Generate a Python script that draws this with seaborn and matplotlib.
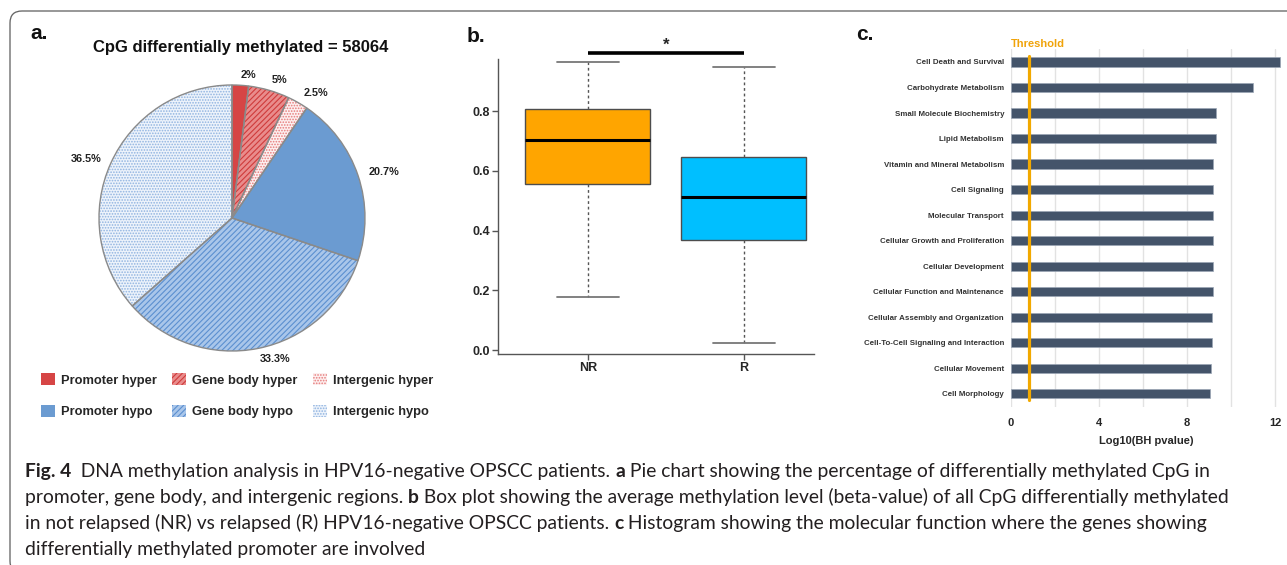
import matplotlib
matplotlib.use('Agg')
import matplotlib.pyplot as plt
import seaborn as sns
import pandas as pd
from matplotlib import font_manager
from matplotlib.patches import Patch, FancyBboxPatch
from matplotlib.transforms import IdentityTransform

W, H = 1287, 565

# a. pie chart
pie_labels = ['Promoter hyper', 'Gene body hyper', 'Intergenic hyper',
              'Promoter hypo', 'Gene body hypo', 'Intergenic hypo']
pie_values = [2, 5, 2.5, 20.7, 33.3, 36.5]
pie_text = ['2%', '5%', '2.5%', '20.7%', '33.3%', '36.5%']
pie_title = 'CpG differentially methylated = 58064'

# b. box plot, summary per group: min, q1, median, q3, max
box_groups = ['NR', 'R']
nr_summary = [0.178, 0.557, 0.704, 0.807, 0.963]
r_summary = [0.024, 0.370, 0.513, 0.645, 0.947]

# c. molecular functions
functions = ['Cell Death and Survival', 'Carbohydrate Metabolism',
             'Small Molecule Biochemistry', 'Lipid Metabolism',
             'Vitamin and Mineral Metabolism', 'Cell Signaling',
             'Molecular Transport', 'Cellular Growth and Proliferation',
             'Cellular Development', 'Cellular Function and Maintenance',
             'Cellular Assembly and Organization',
             'Cell-To-Cell Signaling and Interaction', 'Cellular Movement',
             'Cell Morphology']
log_p = [12.24, 10.98, 9.30, 9.30, 9.18, 9.18, 9.18, 9.18, 9.18, 9.16,
         9.15, 9.15, 9.11, 9.05]
threshold = 0.8

caption_lines = [
    [('Fig. 4', True), ('  DNA methylation analysis in HPV16-negative OPSCC patients. ', False),
     ('a', True), (' Pie chart showing the percentage of differentially methylated CpG in', False)],
    [('promoter, gene body, and intergenic regions. ', False), ('b', True),
     (' Box plot showing the average methylation level (beta-value) of all CpG differentially methylated', False)],
    [('in not relapsed (NR) vs relapsed (R) HPV16-negative OPSCC patients. ', False), ('c', True),
     (' Histogram showing the molecular function where the genes showing', False)],
    [('differentially methylated promoter are involved', False)],
]

# styles
pie_faces = ['#d64545', '#e98c8c', '#fdf0f0', '#6b9bd1', '#a9c6ea', '#edf3fb']
pie_hatches = [None, '//////', '......', None, '//////', '......']
pie_hatch_colors = [None, '#cf3b3b', '#e67a7a', None, '#5b8fd0', '#8fb3e0']

sns.set_theme(style='white')
plt.rcParams['font.family'] = ['Liberation Sans', 'DejaVu Sans']
plt.rcParams['hatch.linewidth'] = 0.8


def box(left, top, width, height):
    return [left / W, 1 - (top + height) / H, width / W, height / H]


def fx(x):
    return x / W


def fy(y):
    return 1 - y / H


fig = plt.figure(figsize=(W / 100, H / 100), dpi=100)
fig.patch.set_facecolor('white')

# ---- a. pie
ax_a = fig.add_axes(box(72.4, 58.4, 319.2, 319.2))
wedges, texts = ax_a.pie(pie_values, labels=pie_text, startangle=90, counterclock=False,
                         colors=pie_faces, labeldistance=1.08,
                         textprops=dict(fontsize=7.8, fontweight='bold', color='#222222'),
                         wedgeprops=dict(linewidth=0))
for w, h, c in zip(wedges, pie_hatches, pie_hatch_colors):
    if h:
        w.set_edgecolor(c)
        w.set_hatch(h)
ax_a.pie(pie_values, startangle=90, counterclock=False, colors=['none'] * len(pie_values),
         wedgeprops=dict(edgecolor='#8a8a8a', linewidth=1))
ax_a.set_xlim(-1.2, 1.2)
ax_a.set_ylim(-1.2, 1.2)

fig.text(fx(241), fy(52), pie_title, ha='center', va='baseline', fontsize=12,
         fontweight='bold', color='#111111')

order = [0, 3, 1, 4, 2, 5]
handles = []
for i in order:
    if pie_hatches[i]:
        handles.append(Patch(facecolor=pie_faces[i], hatch=pie_hatches[i],
                             edgecolor=pie_hatch_colors[i], linewidth=0))
    else:
        handles.append(Patch(facecolor=pie_faces[i], linewidth=0))
fig.legend(handles, [pie_labels[i] for i in order], ncol=3, loc='upper left',
           bbox_to_anchor=(fx(41), fy(373)), frameon=False,
           prop=dict(weight='bold', size=9.3), handlelength=1.08, handleheight=1.08,
           handletextpad=0.45, columnspacing=1.2, labelspacing=1.4,
           borderpad=0, borderaxespad=0)

# ---- b. box plot
df_box = pd.DataFrame({'group': ['NR'] * len(nr_summary) + ['R'] * len(r_summary),
                       'value': nr_summary + r_summary})
ax_b = fig.add_axes(box(498, 59, 316, 295))
sns.boxplot(data=df_box, x='group', y='value', hue='group', order=box_groups,
            palette={'NR': '#FFA500', 'R': '#00BFFF'}, saturation=1, whis=(0, 100),
            width=0.8, linecolor='#4d4d4d', linewidth=1, legend=False,
            whiskerprops=dict(color='#555555', linewidth=1, linestyle=(0, (2, 2))),
            capprops=dict(color='#777777', linewidth=1.3),
            medianprops=dict(color='black', linewidth=2.2), ax=ax_b)
ax_b.set_xlim(-0.576, 1.45)
ax_b.set_ylim(-0.013, 0.974)
yt = [0, 0.2, 0.4, 0.6, 0.8]
ax_b.set_yticks(yt, labels=[f'{v:.1f}' for v in yt], fontweight='bold', fontsize=9)
ax_b.set_xticks([0, 1], labels=box_groups, fontweight='bold', fontsize=9)
ax_b.set_xlabel('')
ax_b.set_ylabel('')
sns.despine(ax=ax_b)
for s in ['left', 'bottom']:
    ax_b.spines[s].set_color('#555555')
    ax_b.spines[s].set_linewidth(1)
ax_b.tick_params(axis='both', length=4, width=1, color='#555555', pad=2,
                 left=True, bottom=True)
ax_b.plot([0, 1], [0.994, 0.994], color='black', lw=2.6, clip_on=False,
          solid_capstyle='butt')
ax_b.text(0.5, 1.02, '*', ha='center', va='center', fontsize=12, fontweight='bold',
          clip_on=False)

# ---- c. bar chart
ax_c = fig.add_axes(box(1011, 49.2, 270.6, 357.4))
ax_c.set_axisbelow(True)
sns.barplot(x=log_p, y=functions, color='#44546a', width=0.36, saturation=1,
            edgecolor='#9aa5b5', linewidth=0.5, errorbar=None, ax=ax_c)
ax_c.set_xlim(0, 12.3)
ax_c.set_ylim(13.5, -0.5)
ax_c.set_xticks([0, 4, 8, 12], labels=['0', '4', '8', '12'], fontweight='bold', fontsize=8)
ax_c.set_xticks([2, 6, 10], minor=True)
ax_c.grid(axis='x', which='both', color='#e2e2e2', linewidth=1)
ax_c.grid(axis='y', visible=False)
for lbl in ax_c.get_yticklabels():
    lbl.set_fontweight('bold')
    lbl.set_fontsize(5.7)
    lbl.set_color('#333333')
ax_c.tick_params(axis='x', which='both', length=0, pad=8)
ax_c.tick_params(axis='y', length=0, pad=5)
for s in ax_c.spines.values():
    s.set_visible(False)
ax_c.axvline(threshold, ymin=0.018, ymax=0.981, color='#f2a900', lw=2.3)
ax_c.text(0, -0.72, 'Threshold', ha='left', va='center', fontsize=8,
          fontweight='bold', color='#f0a30a', clip_on=False)
ax_c.set_xlabel('Log10(BH pvalue)', fontsize=8, fontweight='bold', labelpad=6)
ax_c.set_ylabel('')

# panel letters
for letter, x, y in [('a.', 30, 39), ('b.', 467, 42.5), ('c.', 856, 40)]:
    fig.text(fx(x), fy(y), letter, ha='left', va='baseline', fontsize=15,
             fontweight='bold', color='#111111')

# ---- caption
names = {f.name for f in font_manager.fontManager.ttflist}
cap_family = ['Liberation Sans Narrow'] if 'Liberation Sans Narrow' in names else ['Lato']
renderer = fig.canvas.get_renderer()


def draw_runs(runs, x, y, size):
    objs = []
    for txt, bold in runs:
        t = fig.text(fx(x), fy(y), txt, ha='left', va='baseline', fontsize=size,
                     fontweight='bold' if bold else 'normal', family=cap_family,
                     color='#231f20')
        x += t.get_window_extent(renderer).width
        objs.append(t)
    return objs, x


probe, end = draw_runs(caption_lines[0], 25, 477, 12)
for t in probe:
    t.remove()
cap_size = 12 * (1209 - 25) / (end - 25)
for k, line in enumerate(caption_lines):
    draw_runs(line, 25, 477 + 26 * k, cap_size)

# frame
frame = FancyBboxPatch((10, -8), 1400, H - 11 + 8, boxstyle='round,pad=0,rounding_size=12',
                       transform=IdentityTransform(), facecolor='none',
                       edgecolor='#666666', linewidth=0.95)
fig.patches.append(frame)

fig.savefig('out.png', dpi=100)
